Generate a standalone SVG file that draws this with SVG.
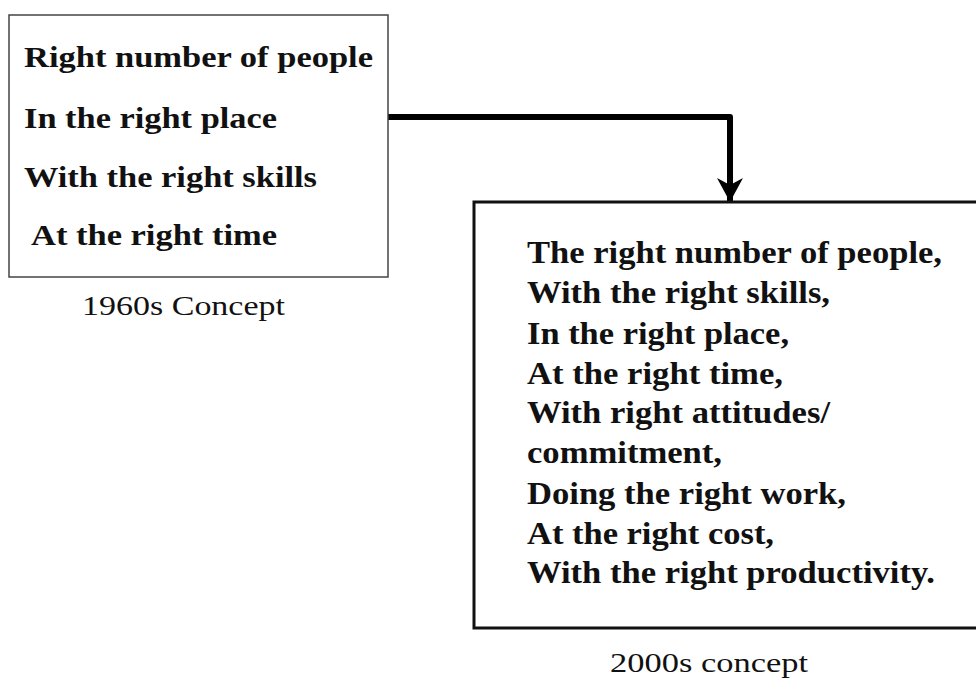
<svg xmlns="http://www.w3.org/2000/svg" width="976" height="679" viewBox="0 0 976 679">
<style>
.b1{font-family:"Liberation Serif","Times New Roman",serif;font-weight:bold;font-size:30px;fill:#111}
.b2{font-family:"Liberation Serif","Times New Roman",serif;font-weight:bold;font-size:31px;fill:#111}
.c{font-family:"Liberation Serif","Times New Roman",serif;font-size:27px;fill:#111}
</style>
<defs>
<marker id="ah" markerUnits="userSpaceOnUse" markerWidth="26" markerHeight="26" refX="24" refY="13" orient="auto">
<path d="M0,0 L24,13 L0,26 L7,13 Z" fill="#000"/>
</marker>
</defs>
<rect width="976" height="679" fill="#fff"/>
<g id="connectors">
<path d="M388,117 H730 V202" fill="none" stroke="#000" stroke-width="6" stroke-linejoin="round" marker-end="url(#ah)"/>
</g>
<g id="concept1960">
<rect x="9" y="15" width="379" height="262" fill="none" stroke="#444" stroke-width="1.5"/>
<text class="b1" x="24" y="67" textLength="349" lengthAdjust="spacingAndGlyphs">Right number of people</text>
<text class="b1" x="24" y="128" textLength="253" lengthAdjust="spacingAndGlyphs">In the right place</text>
<text class="b1" x="24" y="187" textLength="293" lengthAdjust="spacingAndGlyphs">With the right skills</text>
<text class="b1" x="31" y="245" textLength="246" lengthAdjust="spacingAndGlyphs">At the right time</text>
</g>
<text class="c" x="82" y="315" textLength="203" lengthAdjust="spacingAndGlyphs">1960s Concept</text>
<g id="concept2000">
<rect x="474" y="202" width="504" height="426" fill="none" stroke="#111" stroke-width="3"/>
<text class="b2" x="527" y="263" textLength="415" lengthAdjust="spacingAndGlyphs">The right number of people,</text>
<text class="b2" x="527" y="303" textLength="303" lengthAdjust="spacingAndGlyphs">With the right skills,</text>
<text class="b2" x="527" y="344" textLength="262" lengthAdjust="spacingAndGlyphs">In the right place,</text>
<text class="b2" x="527" y="384" textLength="256" lengthAdjust="spacingAndGlyphs">At the right time,</text>
<text class="b2" x="527" y="423" textLength="303" lengthAdjust="spacingAndGlyphs">With right attitudes/</text>
<text class="b2" x="527" y="463" textLength="195" lengthAdjust="spacingAndGlyphs">commitment,</text>
<text class="b2" x="527" y="504" textLength="319" lengthAdjust="spacingAndGlyphs">Doing the right work,</text>
<text class="b2" x="527" y="544" textLength="247" lengthAdjust="spacingAndGlyphs">At the right cost,</text>
<text class="b2" x="527" y="583" textLength="408" lengthAdjust="spacingAndGlyphs">With the right productivity.</text>
</g>
<text class="c" x="610" y="672" textLength="198" lengthAdjust="spacingAndGlyphs">2000s concept</text>
</svg>
